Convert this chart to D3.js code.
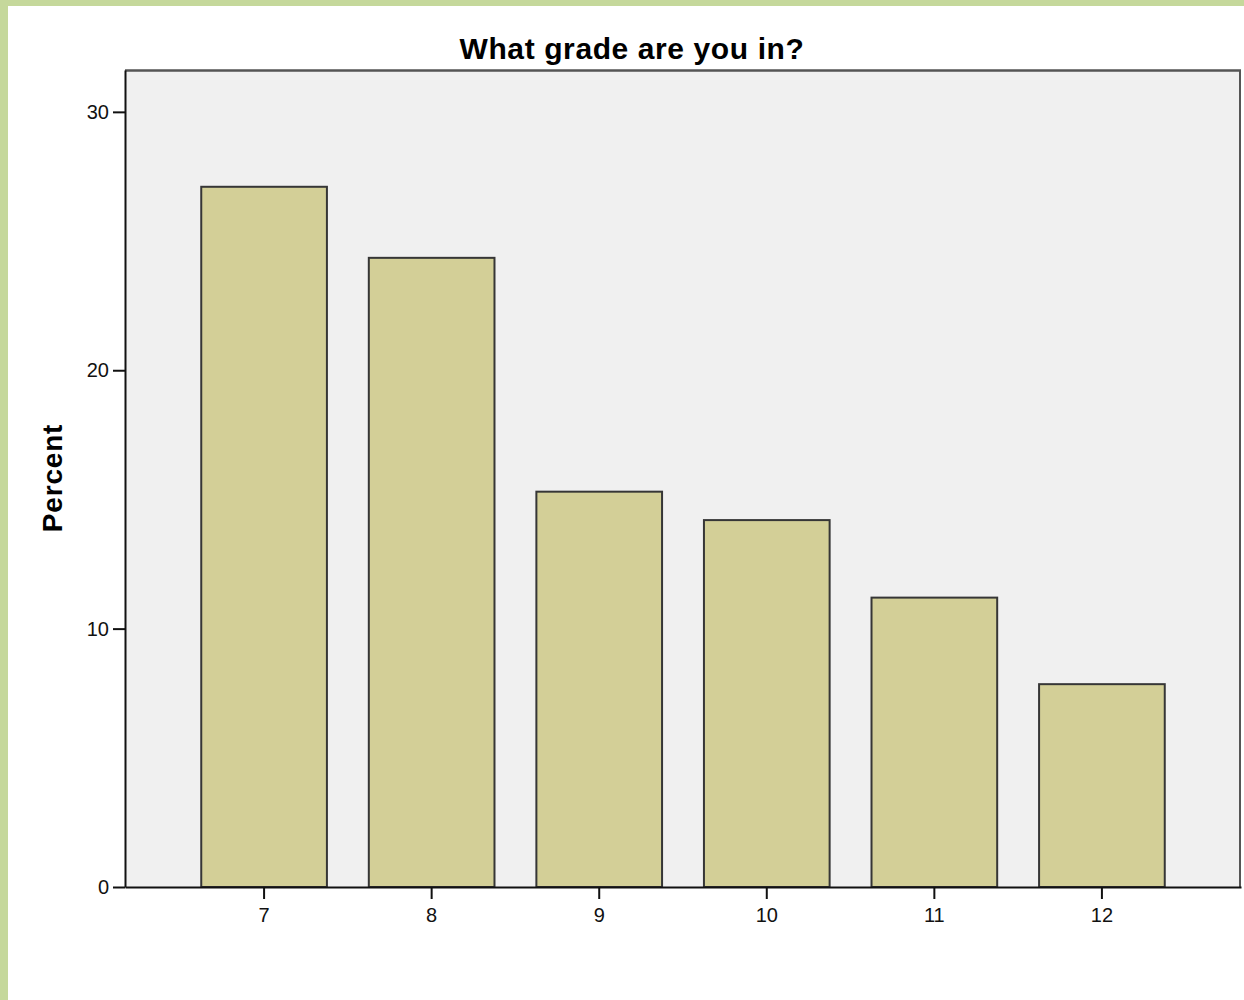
<!DOCTYPE html>
<html>
<head>
<meta charset="utf-8">
<script src="https://cdn.jsdelivr.net/npm/d3@7"></script>
<style>
  body { margin: 0; background: #fff; }
  svg { display: block; }
</style>
</head>
<body>
<svg></svg>
<script>
const grades = ["7", "8", "9", "10", "11", "12"];
const percents = [27.1, 24.35, 15.3, 14.2, 11.2, 7.85];
const yTicks = [0, 10, 20, 30];

const W = 1244, H = 1000;
const margin = {top: 70, right: 3, bottom: 113, left: 125},
      width = W - margin.left - margin.right,
      height = H - margin.top - margin.bottom;

const font = "Liberation Sans, Arial, sans-serif";

const root = d3.select("svg").attr("width", W).attr("height", H);

// green frame (top + left)
root.append("rect").attr("x", 0).attr("y", 0).attr("width", W).attr("height", 6).attr("fill", "#c5d89b");
root.append("rect").attr("x", 0).attr("y", 0).attr("width", 8).attr("height", H).attr("fill", "#c5d89b");

const svg = root.append("g")
    .attr("transform", `translate(${margin.left},${margin.top})`);

const x = d3.scaleBand()
    .domain(grades)
    .range([0, width])
    .paddingInner(0.25)
    .paddingOuter(0.455);

const y = d3.scaleLinear()
    .domain([0, 31.62])
    .range([height, 0]);

// plot background
svg.append("rect")
    .attr("width", width).attr("height", height)
    .attr("fill", "#f0f0f0");

// frame top/right
svg.append("line").attr("x1", 0).attr("x2", width).attr("y1", 0.5).attr("y2", 0.5)
    .attr("stroke", "#555").attr("stroke-width", 2.5);
svg.append("line").attr("x1", width - 1).attr("x2", width - 1).attr("y1", 0).attr("y2", height)
    .attr("stroke", "#555").attr("stroke-width", 2);

// bars
svg.append("g")
    .selectAll("rect")
    .data(grades)
    .enter()
    .append("rect")
        .attr("x", d => x(d))
        .attr("y", (d, i) => y(percents[i]))
        .attr("width", x.bandwidth())
        .attr("height", (d, i) => height - y(percents[i]))
        .attr("fill", "#d3cf97")
        .attr("stroke", "#363636")
        .attr("stroke-width", 2);

// axes
svg.append("g")
    .attr("transform", `translate(0,${height})`)
    .call(d3.axisBottom(x).tickSize(12).tickSizeOuter(0))
    .call(g => g.select(".domain").attr("stroke", "#111").attr("stroke-width", 2))
    .call(g => g.selectAll(".tick line").attr("stroke", "#111").attr("stroke-width", 2))
    .call(g => g.selectAll(".tick text")
        .attr("y", 21).attr("dy", "0.71em")
        .style("font-family", font).style("font-size", "20px").attr("fill", "#111"));

svg.append("g")
    .call(d3.axisLeft(y).tickValues(yTicks).tickSize(12).tickSizeOuter(0))
    .call(g => g.select(".domain").attr("stroke", "#111").attr("stroke-width", 2))
    .call(g => g.selectAll(".tick line").attr("stroke", "#111").attr("stroke-width", 2))
    .call(g => g.selectAll(".tick text")
        .attr("x", -16)
        .style("font-family", font).style("font-size", "20px").attr("fill", "#111"));

// title
root.append("text")
    .attr("x", 632).attr("y", 59)
    .attr("text-anchor", "middle")
    .style("font-family", font)
    .style("font-weight", "bold")
    .style("font-size", "30px")
    .style("letter-spacing", "0.6px")
    .text("What grade are you in?");

// y label
root.append("text")
    .attr("transform", "translate(62,478) rotate(-90)")
    .attr("text-anchor", "middle")
    .style("font-family", font)
    .style("font-weight", "bold")
    .style("font-size", "28px")
    .style("letter-spacing", "0.8px")
    .text("Percent");
</script>
</body>
</html>
